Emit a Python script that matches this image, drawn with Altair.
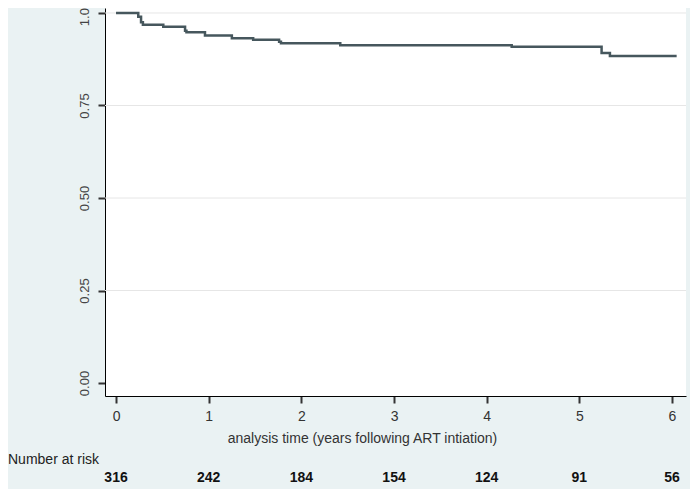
import altair as alt
import pandas as pd

# Kaplan-Meier step curve (time in years, survival probability)
times = [0.0, 0.24, 0.27, 0.29, 0.51, 0.745, 0.76, 0.96, 1.25, 1.48, 1.76, 1.78, 2.42, 4.27, 5.24, 5.33, 6.05]
surv = [1.0, 0.99, 0.975, 0.968, 0.963, 0.952, 0.948, 0.939, 0.932, 0.928, 0.922, 0.918, 0.913, 0.909, 0.892, 0.884, 0.884]

# Number at risk table
risk_times = [0, 1, 2, 3, 4, 5, 6]
risk_counts = [316, 242, 184, 154, 124, 91, 56]

grid_vals = [0.25, 0.5, 0.75, 1.0]

x_ticks = [0, 1, 2, 3, 4, 5, 6]
y_ticks = [0.0, 0.25, 0.5, 0.75, 1.0]

curve_df = pd.DataFrame({"t": times, "s": surv})
risk_df = pd.DataFrame({"t": risk_times, "n": [str(v) for v in risk_counts]})
grid_df = pd.DataFrame({"g": grid_vals})

FONT = "Liberation Sans"
W, H = 581, 388

xscale = alt.Scale(domain=[-0.119, 6.151], nice=False, zero=False)
yscale = alt.Scale(domain=[-0.0351, 1.0135], nice=False, zero=False)

xaxis = alt.Axis(
    values=x_ticks, format="d", labelAngle=0, tickSize=7, tickWidth=2,
    tickColor="#333333", domainColor="#000000", domainWidth=1,
    labelFont=FONT, labelFontSize=14, labelColor="#333333", labelPadding=6,
    grid=False,
    title="analysis time (years following ART intiation)",
    titleFont=FONT, titleFontSize=14, titleFontWeight="normal", titleColor="#333333",
    titleX=257, titleY=42, titleAlign="center", titleBaseline="middle",
)
yaxis = alt.Axis(
    values=y_ticks, format=".2f", labelAngle=-90, tickSize=7, tickWidth=2,
    tickColor="#333333", domainColor="#000000", domainWidth=1,
    labelFont=FONT, labelFontSize=13, labelColor="#444444", labelPadding=10,
    labelAlign="center", labelBaseline="alphabetic",
    grid=False, title=None,
)

grid = alt.Chart(grid_df).mark_rule(color="#e6e6e6", strokeWidth=1).encode(
    y=alt.Y("g:Q", scale=yscale, axis=yaxis),
)

curve = alt.Chart(curve_df).mark_line(
    interpolate="step-after", color="#46575d", strokeWidth=2.5
).encode(
    x=alt.X("t:Q", scale=xscale, axis=xaxis),
    y=alt.Y("s:Q", scale=yscale, axis=yaxis),
)

risk = alt.Chart(risk_df).mark_text(
    font=FONT, fontSize=14, fontWeight="bold", color="#111111",
    align="center", baseline="middle"
).encode(
    x=alt.X("t:Q", scale=xscale, axis=xaxis),
    y=alt.value(470),
    text="n:N",
)

label_df = pd.DataFrame({"lab": ["Number at risk"]})
risk_label = alt.Chart(label_df).mark_text(
    font=FONT, fontSize=14, color="#222222", align="left", baseline="middle"
).encode(
    x=alt.value(-97),
    y=alt.value(452),
    text="lab:N",
)

chart = alt.layer(grid, curve, risk, risk_label).properties(
    width=W, height=H,
    autosize=alt.AutoSizeParams(type="none"),
    padding={"left": 97, "top": 0, "right": 4, "bottom": 93},
    background="#eaf2f3",
).configure_view(
    fill="white", stroke=None,
)

chart.save("out.html", embed_options={"renderer": "svg", "actions": False})
